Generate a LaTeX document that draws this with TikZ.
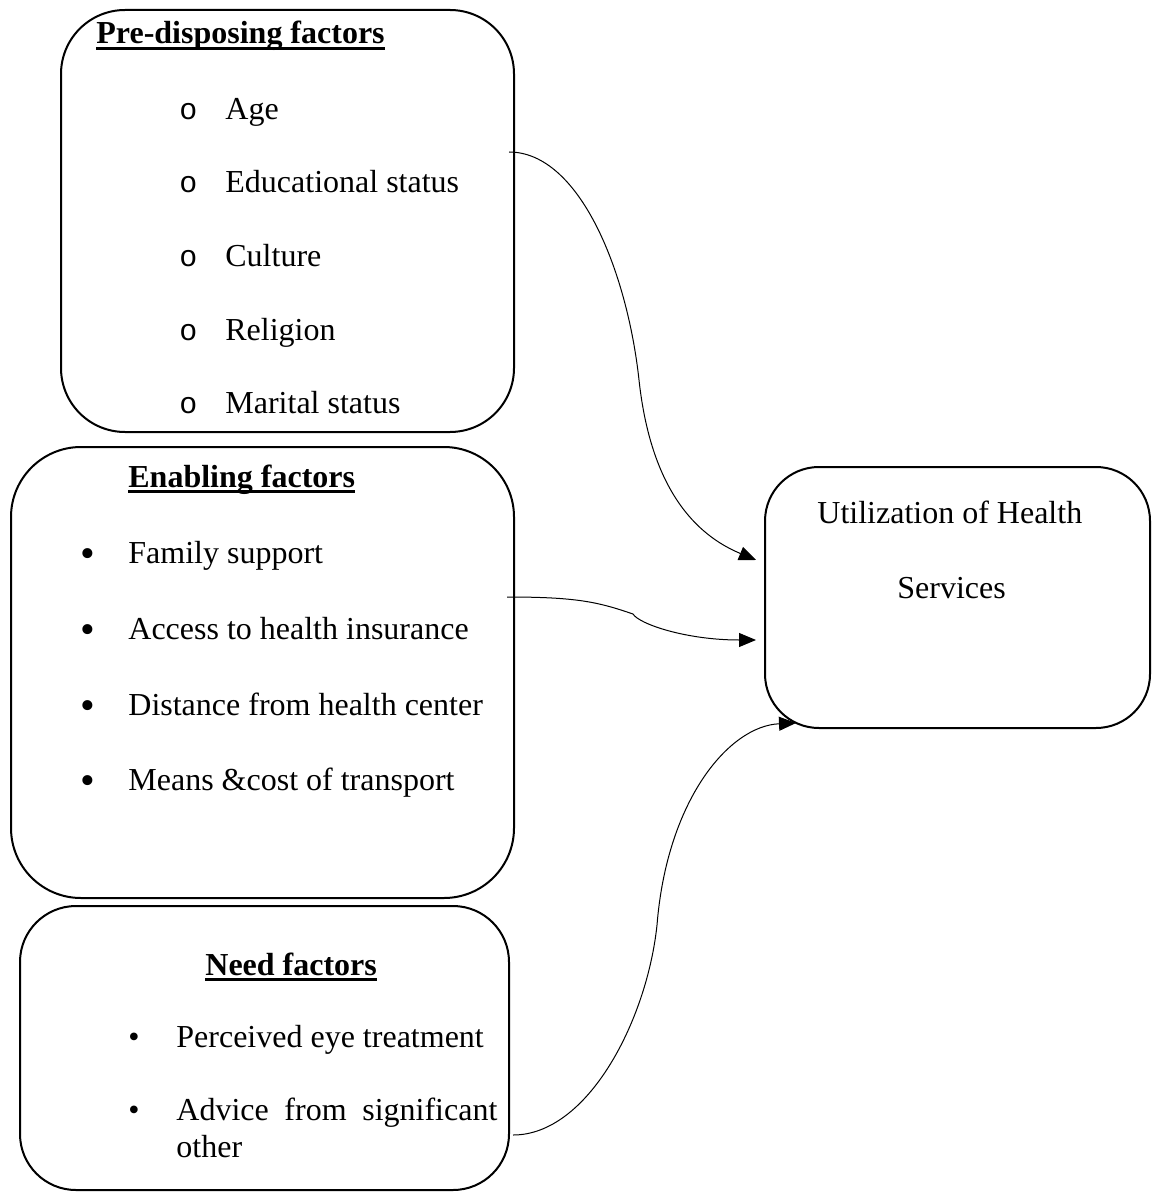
\documentclass[tikz,border=0pt]{standalone}
\usepackage{fontspec}
\setmainfont{Liberation Serif}
\newfontfamily\monofont{Liberation Mono}
\usetikzlibrary{arrows.meta,calc}
\newcommand{\myul}[1]{\setbox0\hbox{#1}\rlap{\rule[-3pt]{\wd0}{1.5pt}}\box0}
\begin{document}
\begin{tikzpicture}[x=0.5pt,y=-0.5pt,
  box/.style={draw, line width=1pt, inner sep=0pt},
  txt/.style={anchor=base west, inner sep=0pt, font=\fontsize{16}{19}\selectfont},
  ttl/.style={anchor=base west, inner sep=0pt, font=\fontsize{16}{19}\selectfont\bfseries},
  obul/.style={anchor=base west, inner sep=0pt, font=\fontsize{15}{19}\selectfont\monofont},
  dbul/.style={anchor=base, inner sep=0pt, font=\fontsize{21}{26}\selectfont},
  sbul/.style={anchor=base, inner sep=0pt, font=\fontsize{16}{19}\selectfont},
  conn/.style={line width=0.5pt, -{Triangle[length=8.5pt,width=7pt]}}]
\useasboundingbox (0,0) rectangle (1152,1192);

% boxes
\node[box, minimum width=226.5pt, minimum height=211pt, rounded corners=32pt] (pre) at (287.5,221) {};
\node[box, minimum width=251.5pt, minimum height=225.5pt, rounded corners=35pt] (en) at (262.5,672.5) {};
\node[box, minimum width=244.5pt, minimum height=142pt, rounded corners=28pt] (need) at (264.5,1048) {};
\node[box, minimum width=192.5pt, minimum height=130.5pt, rounded corners=27pt] (util) at (957.5,597.5) {};

% pre-disposing
\node[ttl] (preT) at (96,44) {\myul{Pre-disposing factors}};
\node[obul] (pb1) at (179,120) {o};
\node[obul] (pb2) at (179,193) {o};
\node[obul] (pb3) at (179,267) {o};
\node[obul] (pb4) at (179,340) {o};
\node[obul] (pb5) at (179,413) {o};
\node[txt] (p1) at (225,120) {Age};
\node[txt] (p2) at (225,193) {Educational status};
\node[txt] (p3) at (225,267) {Culture};
\node[txt] (p4) at (225,340) {Religion};
\node[txt] (p5) at (225,413) {Marital status};

% enabling
\node[ttl] (enT) at (128,487) {\myul{Enabling factors}};
\node[dbul] (eb1) at (88,567) {•};
\node[dbul] (eb2) at (88,643) {•};
\node[dbul] (eb3) at (88,719) {•};
\node[dbul] (eb4) at (88,794) {•};
\node[txt] (e1) at (128,563) {Family support};
\node[txt] (e2) at (128,639) {Access to health insurance};
\node[txt] (e3) at (128,715) {Distance from health center};
\node[txt] (e4) at (128,790) {Means \&cost of transport};

% need
\node[ttl] (needT) at (205,975) {\myul{Need factors}};
\node[sbul] (nb1) at (134,1047) {•};
\node[sbul] (nb2) at (134,1120) {•};
\node[txt] (n1) at (176,1047) {Perceived eye treatment};
\node[txt] (n2) at (176,1120) {\makebox[160.5pt][l]{Advice\hfill from\hfill significant}};
\node[txt] (n3) at (176,1157) {other};

% utilization
\node[txt] (u1) at (817,523) {Utilization of Health};
\node[txt] (u2) at (897,598) {Services};

% connectors
\coordinate (s1) at ($(pre.east)+(-6,-69)$);
\coordinate (m1) at ($(pre.east)+(124,159)$);
\coordinate (t1) at ($(util.west)+(-8,-37.5)$);
\coordinate (s2) at ($(en.east)+(-8,-75.5)$);
\coordinate (m2) at ($(en.east)+(118,-58.5)$);
\coordinate (t2) at ($(util.west)+(-8,42.5)$);
\coordinate (s3) at ($(need.east)+(3,87)$);
\coordinate (m3) at ($(need.east)+(147,-123)$);
\coordinate (t3) at ($(util.south west)+(32,-6)$);

\draw[conn] (s1) .. controls +(70,0) and +(-12,-110) .. (m1) .. controls +(12,110) and +(-60,-25) .. (t1);
\draw[conn] (s2) .. controls +(70,0) and +(-35,-12) .. (m2) .. controls +(6,10) and +(-70,0) .. (t2);
\draw[conn] (s3) .. controls +(75,0) and +(-10,95) .. (m3) .. controls +(10,-125) and +(-67,3) .. (t3);
\end{tikzpicture}
\end{document}
